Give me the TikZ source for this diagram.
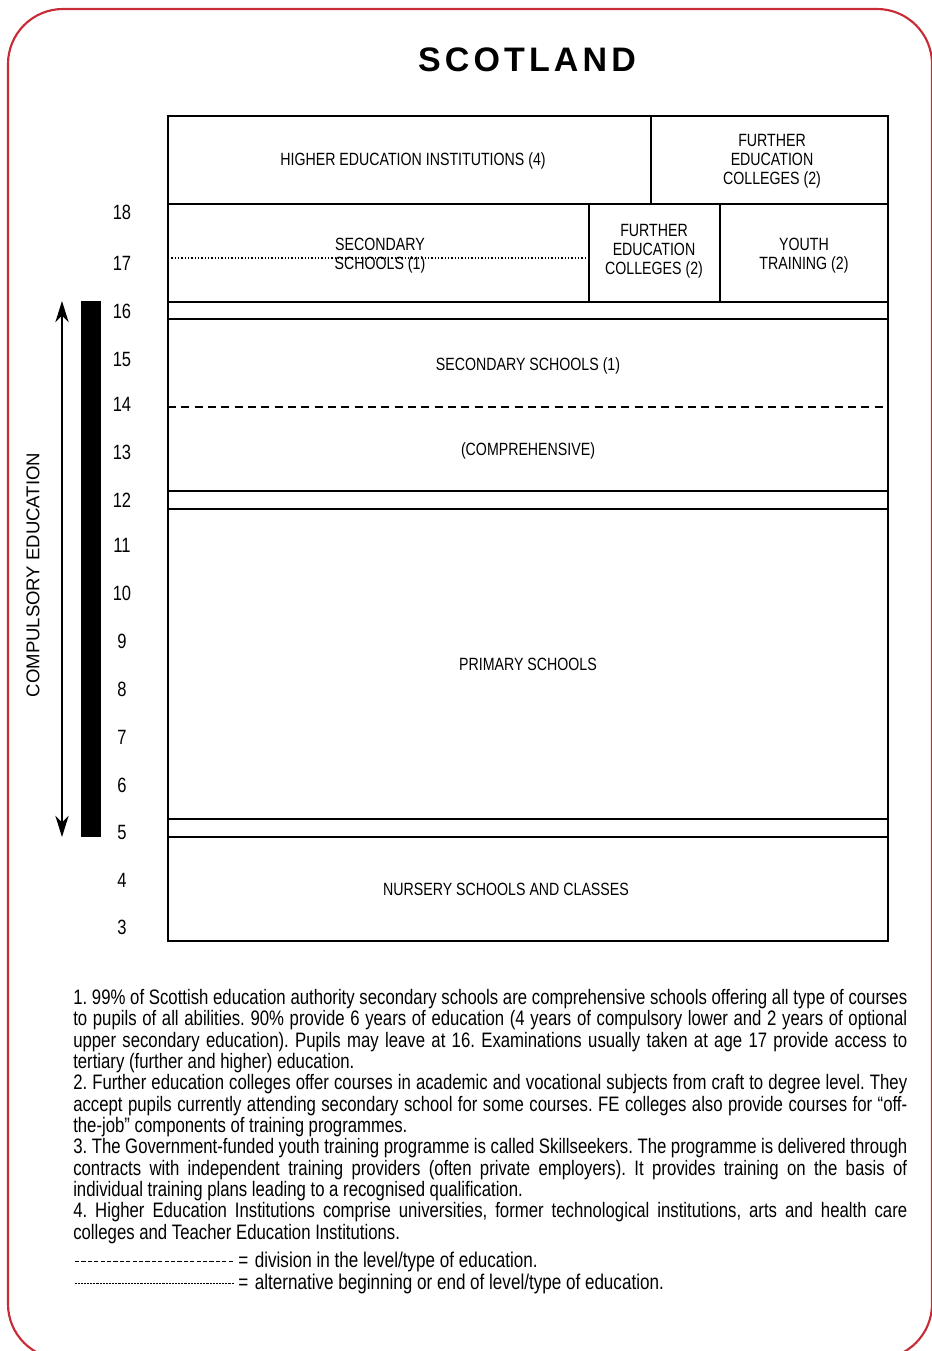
\documentclass[tikz,border=0pt]{standalone}
\usepackage{fontspec}
\setmainfont{Liberation Sans}[FakeStretch=0.8]
\newfontfamily\widefont{Liberation Sans}
\usetikzlibrary{arrows.meta}
\definecolor{framered}{RGB}{200,45,55}
\newcommand{\fnj}[1]{\hbox to\hsize{#1}}
\newcommand{\fnl}[1]{\hbox to\hsize{#1\hfil}}
\frenchspacing
\begin{document}
\begin{tikzpicture}[x=0.75pt,y=-0.75pt,
  boxline/.style={line width=1.5pt},
  lbl/.style={font=\fontsize{13.3}{14.25}\selectfont, align=center, inner sep=0pt},
  age/.style={font=\fontsize{15.5}{16}\selectfont, inner sep=0pt},
  legtext/.style={font=\fontsize{16}{16}\selectfont, inner sep=0pt, anchor=west}]
\useasboundingbox (0,0) rectangle (931,1351);
% frame
\draw[framered, line width=1.6pt, rounded corners=41.25pt] (8,9) rectangle (932,1359);
% title
\node[font=\widefont\bfseries\fontsize{25.5}{28}\selectfont, inner sep=0pt] (title) at (527,60)
  {S\kern3.1pt C\kern3.1pt O\kern3.1pt T\kern3.1pt L\kern3.1pt A\kern3.1pt N\kern3.1pt D};
% table outline
\draw[boxline] (168,116) rectangle (888,941);
\foreach \yy in {204,302,319,491,509,819,837}
  \draw[boxline] (168,\yy) -- (888,\yy);
\draw[boxline] (651,116) -- (651,204);
\draw[boxline] (589,204) -- (589,302);
\draw[boxline] (720,204) -- (720,302);
\draw[line width=1.6pt, dash pattern=on 1.1pt off 1.4pt] (168,258) -- (589,258);
\draw[line width=1.5pt, dash pattern=on 6pt off 4pt] (168,407) -- (888,407);
% labels
\node[lbl] (hei) at (413,161) {HIGHER EDUCATION INSTITUTIONS (4)};
\node[lbl] (fe1) at (772,161) {FURTHER\\EDUCATION\\COLLEGES (2)};
\node[lbl] (sec2) at (380,256) {SECONDARY\\SCHOOLS (1)};
\node[lbl] (fe2) at (654,251) {FURTHER\\EDUCATION\\COLLEGES (2)};
\node[lbl] (yt) at (804,256) {YOUTH\\TRAINING (2)};
\node[lbl] (sec) at (528,366) {SECONDARY SCHOOLS (1)};
\node[lbl] (comp) at (528,451) {(COMPREHENSIVE)};
\node[lbl] (prim) at (528,664) {PRIMARY SCHOOLS};
\node[lbl] (nurs) at (506,889) {NURSERY SCHOOLS AND CLASSES};
% ages
\foreach \a/\yy in {18/212,17/263,16/311,15/359,14/404,13/452,12/500,11/545,10/593,9/641,8/689,7/737,6/785,5/832,4/880,3/927}
  \node[age] (a\a) at (122,\yy) {\a};
% compulsory
\fill (81,301) rectangle (101,837);
\coordinate (ctop) at (62,301);
\coordinate (cbot) at (62,837);
\draw[line width=1pt, {Stealth[length=16pt,width=10pt,inset=5pt]}-{Stealth[length=16pt,width=10pt,inset=5pt]}] (ctop) -- (cbot);
\node[rotate=90, font=\widefont\fontsize{13.9}{15}\selectfont, inner sep=0pt] (compulsory) at (33,575) {COMPULSORY EDUCATION};
% notes
\node[anchor=north west, inner sep=0pt, font=\fontsize{15.7}{16}\selectfont] (notes) at (73,989)
{\parbox[t]{625.5pt}{\baselineskip=16pt
\fnj{1. 99\% of Scottish education authority secondary schools are comprehensive schools offering all type of courses}
\fnj{to pupils of all abilities. 90\% provide 6 years of education (4 years of compulsory lower and 2 years of optional}
\fnj{upper secondary education). Pupils may leave at 16. Examinations usually taken at age 17 provide access to}
\fnl{tertiary (further and higher) education.}
\fnj{2. Further education colleges offer courses in academic and vocational subjects from craft to degree level. They}
\fnj{accept pupils currently attending secondary school for some courses. FE colleges also provide courses for “off-}
\fnl{the-job” components of training programmes.}
\fnj{3. The Government-funded youth training programme is called Skillseekers. The programme is delivered through}
\fnj{contracts with independent training providers (often private employers). It provides training on the basis of}
\fnl{individual training plans leading to a recognised qualification.}
\fnj{4. Higher Education Institutions comprise universities, former technological institutions, arts and health care}
\fnl{colleges and Teacher Education Institutions.}}};
% legend
\coordinate (d1) at (75,1261);
\coordinate (d2) at (234,1261);
\coordinate (o1) at (75,1283);
\coordinate (o2) at (234,1283);
\draw[line width=0.7pt, dash pattern=on 3.2pt off 1.6pt] (d1) -- (d2);
\draw[line width=0.6pt, dash pattern=on 0.5pt off 0.6pt] (o1) -- (o2);
\node[legtext] (leg1) at (238,1262) {=\kern5pt division in the level/type of education.};
\node[legtext] (leg2) at (238,1284) {=\kern5pt alternative beginning or end of level/type of education.};
\end{tikzpicture}
\end{document}
